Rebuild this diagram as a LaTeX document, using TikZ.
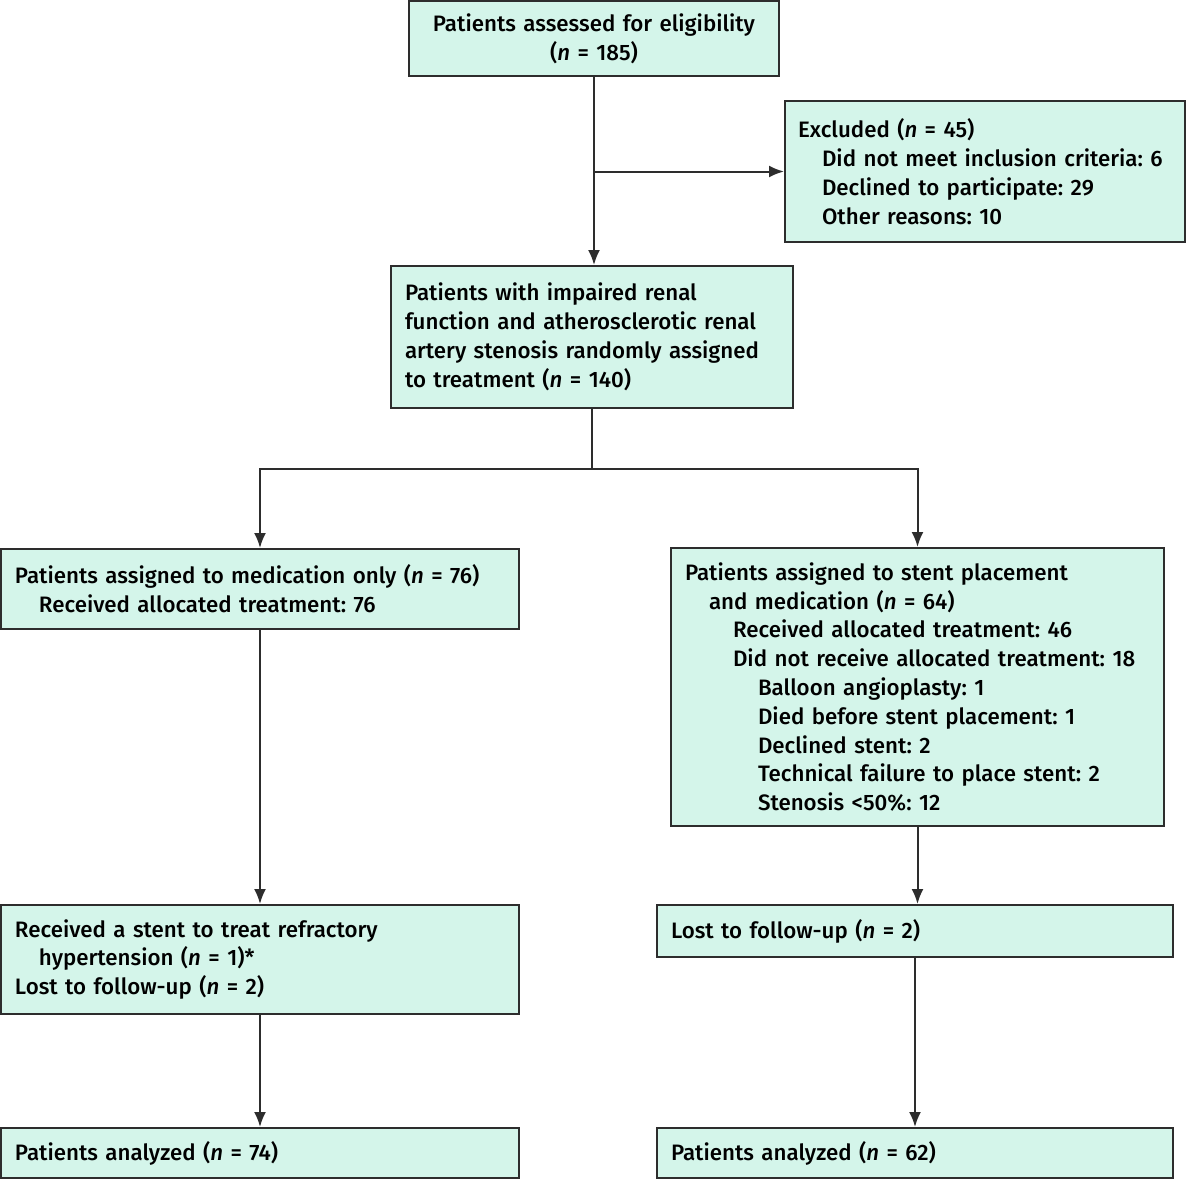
\documentclass[tikz,border=0pt]{standalone}
\usepackage{fontspec}
\setmainfont{Fira Sans Medium}
\usetikzlibrary{arrows.meta}
\definecolor{mint}{RGB}{212,245,234}
\definecolor{ink}{RGB}{45,45,45}
\newlength{\pxu}
\setlength{\pxu}{0.02cm}
\newcommand{\ind}[1]{\hspace*{#1\pxu}}
\newcommand{\nn}{\textit{n}}
\frenchspacing

\begin{document}
\begin{tikzpicture}[
    x=0.02cm, y=-0.02cm,
    >={Latex[length=0.3cm,width=0.24cm]},
    box/.style={
        draw=ink,
        fill=mint,
        line width=0.04cm,
        anchor=north west,
        inner xsep=0.28cm,
        inner ysep=0pt,
        align=left,
        font=\fontsize{12.7}{16.4}\selectfont
    },
    link/.style={
        ink,
        line width=0.04cm
    }
]

    \useasboundingbox (0,0) rectangle (1186,1180);

    % Screening
    \node[box, align=center, text width=342\pxu, minimum height=75\pxu] (elig) at (408,0)
        {Patients assessed for eligibility\\(\nn{} = 185)};

    \node[box, inner xsep=0.26cm, text width=374\pxu, minimum height=141\pxu] (excl) at (784,100)
        {Excluded (\nn{} = 45)\\
         \ind{24}Did not meet inclusion criteria: 6\\
         \ind{24}Declined to participate: 29\\
         \ind{24}Other reasons: 10};

    \node[box, text width=374\pxu, minimum height=142\pxu] (rand) at (390,265)
        {Patients with impaired renal\\
         function and atherosclerotic renal\\
         artery stenosis randomly assigned\\
         to treatment (\nn{} = 140)};

    % Allocation
    \node[box, text width=490\pxu, minimum height=80\pxu] (med) at (0,548)
        {Patients assigned to medication only (\nn{} = 76)\\
         \ind{24}Received allocated treatment: 76};

    \node[box, text width=465\pxu, minimum height=278\pxu] (stent) at (670,547)
        {Patients assigned to stent placement\\
         \ind{24}and medication (\nn{} = 64)\\
         \ind{48}Received allocated treatment: 46\\
         \ind{48}Did not receive allocated treatment: 18\\
         \ind{73}Balloon angioplasty: 1\\
         \ind{73}Died before stent placement: 1\\
         \ind{73}Declined stent: 2\\
         \ind{73}Technical failure to place stent: 2\\
         \ind{73}Stenosis <50\%: 12};

    % Follow-up
    \node[box, text width=490\pxu, minimum height=109\pxu] (recv) at (0,904)
        {Received a stent to treat refractory\\
         \ind{24}hypertension (\nn{} = 1)*\\
         Lost to follow-up (\nn{} = 2)};

    \node[box, text width=488\pxu, minimum height=52\pxu] (lost) at (656,904)
        {Lost to follow-up (\nn{} = 2)};

    % Analysis
    \node[box, text width=490\pxu, minimum height=50\pxu] (anaL) at (0,1127)
        {Patients analyzed (\nn{} = 74)};

    \node[box, text width=488\pxu, minimum height=50\pxu] (anaR) at (656,1127)
        {Patients analyzed (\nn{} = 62)};

    % Connections
    \draw[link, ->] (elig.south) -- (elig.south |- rand.north);
    \coordinate (exclsplit) at (elig.south |- excl.west);
    \draw[link, ->] (exclsplit) -- (excl.west);

    \draw[link] (rand.south) -- ++(0,60) coordinate (split);
    \draw[link, ->] (split) -| (med.north);
    \draw[link, ->] (split) -| (stent.north);

    \draw[link, ->] (med.south) -- (recv.north);
    \draw[link, ->] (stent.south) -- (stent.south |- lost.north);
    \draw[link, ->] (recv.south) -- (anaL.north);
    \draw[link, ->] (lost.south) -- (anaR.north);

\end{tikzpicture}
\end{document}
